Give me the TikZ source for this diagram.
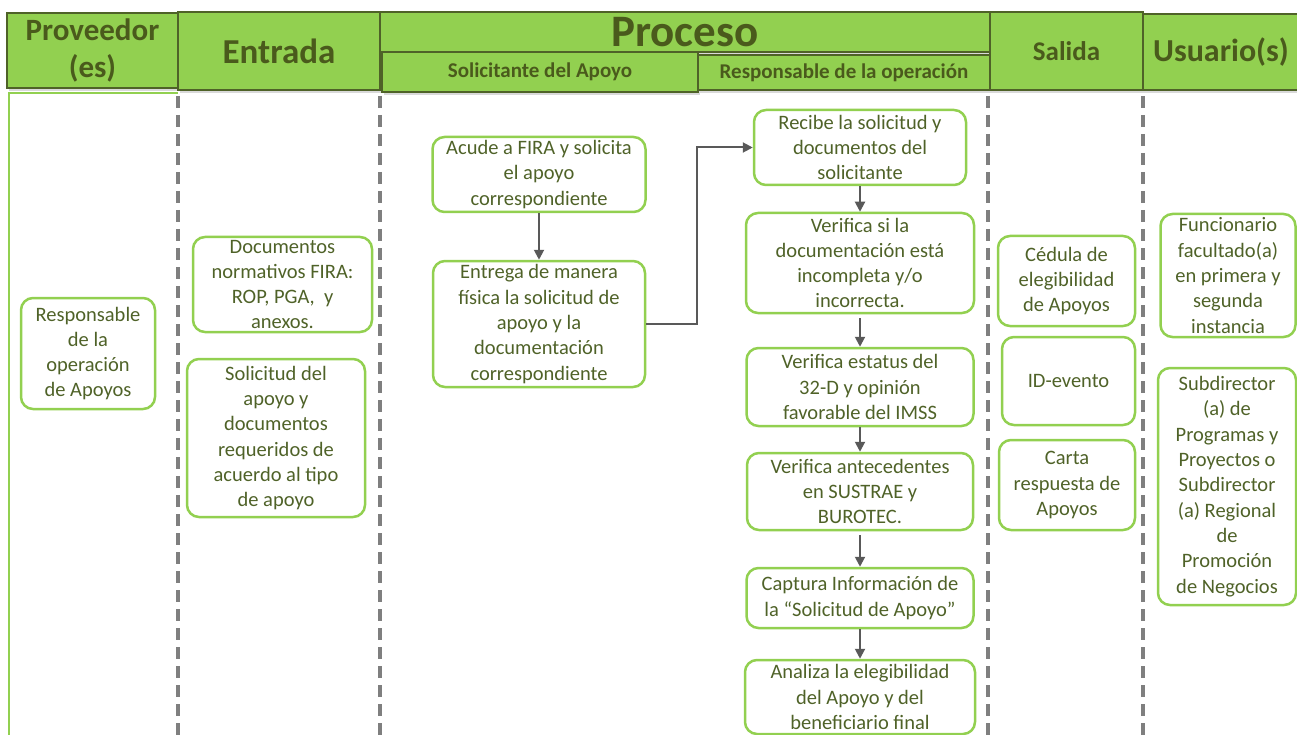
\documentclass[tikz,border=0pt]{standalone}
\usepackage{fontspec}
\setmainfont{Carlito}
\usetikzlibrary{arrows.meta}
\usetikzlibrary{shadows}
\definecolor{hdrgreen}{HTML}{92D050}
\definecolor{hdrline}{HTML}{4F6228}
\definecolor{hdrtext}{HTML}{4A5A1C}
\definecolor{boxtext}{HTML}{4F6228}
\definecolor{lanegray}{HTML}{7F7F7F}
\definecolor{flowgray}{HTML}{595959}
\tikzstyle{hdr}=[draw=hdrline, fill=hdrgreen, line width=2.5pt, text=hdrtext, inner sep=0pt, align=center, drop shadow={shadow xshift=1.5pt, shadow yshift=-3pt, opacity=0.3}]
\tikzstyle{act}=[draw=hdrgreen, line width=2.5pt, rounded corners=12pt, text=boxtext, align=center, inner sep=0pt, font=\fontsize{20.5}{25.3}\selectfont]
\tikzstyle{lane}=[draw=lanegray, line width=4pt, dash pattern=on 12pt off 7pt]
\tikzstyle{flow}=[draw=flowgray, line width=2pt, -{Triangle[length=10pt,width=10pt]}]

\begin{document}
\begin{tikzpicture}[x=1pt, y=-1pt]
        \useasboundingbox (0,0) rectangle (1297,735);
        \draw[draw=hdrgreen, line width=2pt] (9,740) -- (9,93) -- (178,93);
        \draw[lane] (178,96) -- (178,735);
        \draw[lane] (380,96) -- (380,735);
        \draw[lane] (988,96) -- (988,735);
        \draw[lane] (1143,96) -- (1143,735);
        \node[hdr, minimum width=171pt, minimum height=75pt, font=\bfseries\fontsize{31}{37}\selectfont] (Hprov) at (92.5,50.5) {Proveedor\\(es)};
        \node[hdr, minimum width=202pt, minimum height=78pt, font=\bfseries\fontsize{35}{40}\selectfont] (Hent) at (279,51) {Entrada};
        \node[hdr, minimum width=610pt, minimum height=40pt, font=\bfseries\fontsize{45}{50}\selectfont] (Hproc) at (685,32) {Proceso};
        \node[hdr, minimum width=316pt, minimum height=40pt, font=\bfseries\fontsize{21}{24}\selectfont] (Hsol) at (540,72) {Solicitante del Apoyo};
        \node[hdr, minimum width=292pt, minimum height=35pt, font=\bfseries\fontsize{21}{24}\selectfont] (Hresp) at (844,72.5) {Responsable de la operación};
        \node[hdr, minimum width=153pt, minimum height=78pt, font=\bfseries\fontsize{27}{32}\selectfont] (Hsal) at (1066.5,51) {Salida};
        \node[hdr, minimum width=156pt, minimum height=76pt, font=\bfseries\fontsize{32}{38}\selectfont] (Husr) at (1221,52) {Usuario(s)};
        \node[act, minimum width=134pt, minimum height=111pt] (P1) at (88,353.5) {Responsable\\de la\\operación\\de Apoyos};
        \node[act, minimum width=179pt, minimum height=95pt] (E1) at (282.5,284.5) {Documentos\\normativos FIRA:\\ROP, PGA,~ y\\anexos.};
        \node[act, minimum width=178pt, minimum height=158pt] (E2) at (276,438) {Solicitud del\\apoyo y\\documentos\\requeridos de\\acuerdo al tipo\\de apoyo};
        \node[act, minimum width=213pt, minimum height=75pt] (S1) at (539,174.5) {Acude a FIRA y solicita\\el apoyo\\correspondiente};
        \node[act, minimum width=212pt, minimum height=126pt] (S2) at (539,324) {Entrega de manera\\física la solicitud de\\apoyo y la\\documentación\\correspondiente};
        \node[act, minimum width=212pt, minimum height=75pt] (R1) at (860,147.5) {Recibe la solicitud y\\documentos del\\solicitante};
        \node[act, minimum width=228pt, minimum height=100pt] (R2) at (860,263) {Verifica si la\\documentación está\\incompleta y/o\\incorrecta.};
        \node[act, minimum width=227pt, minimum height=78pt] (R3) at (860,387) {Verifica estatus del\\32-D y opinión\\favorable del IMSS};
        \node[act, minimum width=226pt, minimum height=77pt] (R4) at (860,491.5) {Verifica antecedentes\\en SUSTRAE y\\BUROTEC.};
        \node[act, minimum width=227pt, minimum height=60pt] (R5) at (860,598) {Captura Información de\\la “Solicitud de Apoyo”};
        \node[act, minimum width=230pt, minimum height=74pt] (R6) at (860,697) {Analiza la elegibilidad\\del Apoyo y del\\beneficiario final};
        \node[act, minimum width=137pt, minimum height=90pt] (O1) at (1066.5,281) {Cédula de\\elegibilidad\\de Apoyos};
        \node[act, minimum width=133pt, minimum height=88pt] (O2) at (1068.5,381) {ID-evento};
        \node[act, minimum width=136pt, minimum height=90pt] (O3) at (1067,485) {Carta\\respuesta de\\Apoyos};
        \node[act, minimum width=135pt, minimum height=123pt] (U1) at (1228,275.5) {Funcionario\\facultado(a)\\en primera y\\segunda\\instancia};
        \node[act, minimum width=138pt, minimum height=237pt] (U2) at (1227,486.5) {Subdirector\\(a) de\\Programas y\\Proyectos o\\Subdirector\\(a) Regional\\de\\Promoción\\de Negocios};
        \draw[flow] (S1.south) -- (S2.north);
        \draw[flow] (S2.east) -- ++(51,0) |- (R1.west);
        \draw[flow] (R1.south) -- (R2.north);
        \draw[flow] ([yshift=-4pt]R2.south) -- (R3.north);
        \draw[flow] (R3.south) -- (R4.north);
        \draw[flow] ([yshift=-4pt]R4.south) -- (R5.north);
        \draw[flow] (R5.south) -- (R6.north);
    \end{tikzpicture}
\end{document}
